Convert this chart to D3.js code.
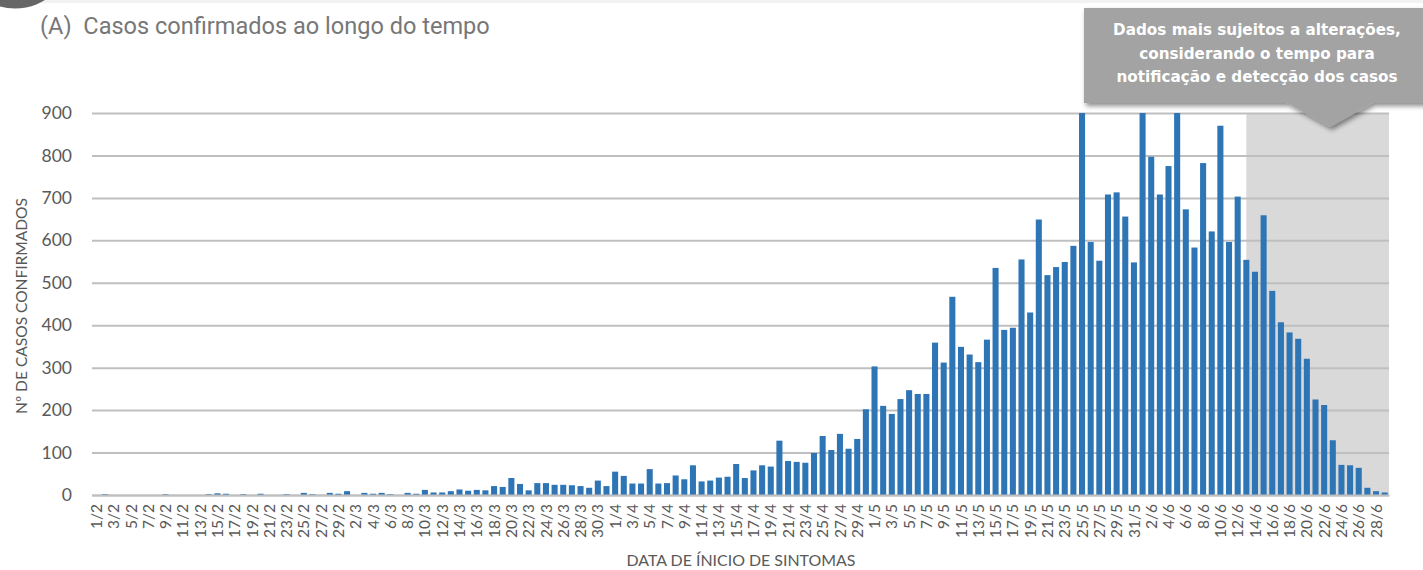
<!DOCTYPE html>
<html>
<head>
<meta charset="utf-8">
<script src="https://cdn.jsdelivr.net/npm/d3@7"></script>
<style>
  html, body { margin: 0; padding: 0; background: #fff; }
  svg { display: block; }
</style>
</head>
<body>
<svg id="chart" width="1423" height="570"></svg>
<script>
// daily confirmed cases by symptom onset date (values above 900 reach the axis top)
const feb = [0, 2, 0, 0, 0, 0, 0, 0, 2, 0, 0, 0, 0, 2, 4, 3, 0, 2, 0, 3, 0, 0, 2, 0, 5, 2, 0, 5, 3];
const mar = [9, 0, 5, 3, 5, 2, 0, 5, 3, 12, 6, 6, 9, 13, 10, 12, 11, 21, 19, 40,
  26, 11, 28, 28, 24, 24, 23, 21, 17, 34, 21];
const apr = [55, 45, 27, 27, 61, 27, 28, 46, 37, 70, 32, 34, 41, 43, 73, 40, 58, 70, 67, 128,
  80, 78, 76, 99, 139, 106, 144, 109, 132, 202];
const may = [303, 210, 191, 226, 247, 238, 238, 359, 312, 467, 349, 331, 313, 366, 535, 389, 394, 555, 430, 649,
  518, 537, 549, 587, 900, 596, 552, 708, 713, 656, 548];
const jun = [900, 797, 708, 775, 900, 673, 583, 782, 621, 870, 596, 703, 554, 526, 659, 481, 407, 383, 368, 321,
  225, 212, 129, 71, 70, 64, 17, 9, 6];

const months = [[2, feb], [3, mar], [4, apr], [5, may], [6, jun]];
const yTicks = [0, 100, 200, 300, 400, 500, 600, 700, 800, 900];
const shadeFrom = '13/6';
const title = '(A)  Casos confirmados ao longo do tempo';
const yTitle = 'Nº DE CASOS CONFIRMADOS';
const xTitle = 'DATA DE ÍNICIO DE SINTOMAS';
const note = ['Dados mais sujeitos a alterações,', 'considerando o tempo para', 'notificação e detecção dos casos'];

let data = [];
months.forEach(([m, vals]) => {
  vals.forEach((v, i) => data.push({ day: `${i + 1}/${m}`, value: v }));
});

const svg = d3.select('#chart');
const pLeft = 92, pRight = 1389, pTop = 113, pBottom = 495;

// scale a text's font size so it spans the wanted width
function fitWidth(sel, width) {
  let size = parseFloat(sel.attr('font-size'));
  let w = sel.node().getComputedTextLength();
  if (w > 0) sel.attr('font-size', (size * width / w).toFixed(2));
}

const x = d3.scaleBand()
  .domain(data.map(d => d.day))
  .range([pLeft, pRight])
  .paddingInner(0.3)
  .paddingOuter(0.15);
const y = d3.scaleLinear().domain([0, 900]).range([pBottom, pTop]).clamp(true);

// decoration at the top
svg.append('rect').attr('x', 0).attr('y', 0).attr('width', 1423).attr('height', 3).attr('fill', '#f2f2f2');
svg.append('circle').attr('cx', 15).attr('cy', -48.5).attr('r', 57).attr('fill', '#666');

const titleText = svg.append('text')
  .attr('x', 40).attr('y', 34)
  .attr('font-family', 'Roboto, sans-serif')
  .attr('font-size', 22)
  .attr('fill', '#777')
  .attr('xml:space', 'preserve')
  .text(title);
fitWidth(titleText, 450);

// shaded zone (recent days)
const shadeX = x(shadeFrom) + x.bandwidth() / 2;
svg.append('rect')
  .attr('x', shadeX).attr('y', y(900))
  .attr('width', pRight - shadeX).attr('height', y(0) - y(900))
  .attr('fill', '#d9d9d9');

// gridlines + y labels
const yAxis = svg.append('g')
  .attr('transform', `translate(${pLeft},0)`)
  .call(d3.axisLeft(y).tickValues(yTicks).tickSize(-(pRight - pLeft)).tickPadding(20));
yAxis.select('.domain').remove();
yAxis.selectAll('line').attr('stroke', '#bfbfbf').attr('stroke-width', 2);
yAxis.selectAll('text')
  .attr('font-family', 'Lato, sans-serif')
  .attr('font-size', 17.5)
  .attr('fill', '#595959');

// bars
svg.append('g')
  .selectAll('rect')
  .data(data)
  .join('rect')
  .attr('x', d => x(d.day))
  .attr('y', d => y(d.value))
  .attr('width', x.bandwidth())
  .attr('height', d => y(0) - y(d.value))
  .attr('fill', '#2e75b6');

// x axis
const xAxis = svg.append('g')
  .attr('transform', `translate(0,${pBottom})`)
  .call(d3.axisBottom(x).tickValues(data.filter((d, i) => i % 2 == 0).map(d => d.day)).tickSize(0));
xAxis.select('.domain').attr('stroke', '#bfbfbf').attr('stroke-width', 2);
xAxis.selectAll('text')
  .attr('font-family', 'Lato, sans-serif')
  .attr('font-size', 15.5)
  .attr('fill', '#595959')
  .attr('text-anchor', 'end')
  .attr('transform', 'rotate(-90)')
  .attr('x', -9)
  .attr('y', 0)
  .attr('dy', '0.36em');

const yTitleText = svg.append('text')
  .attr('transform', 'translate(27,306) rotate(-90)')
  .attr('text-anchor', 'middle')
  .attr('font-family', 'Lato, sans-serif')
  .attr('font-size', 14)
  .attr('fill', '#595959')
  .text(yTitle);
fitWidth(yTitleText, 216);

const xTitleText = svg.append('text')
  .attr('x', 741).attr('y', 566)
  .attr('text-anchor', 'middle')
  .attr('font-family', 'Lato, sans-serif')
  .attr('font-size', 14)
  .attr('fill', '#595959')
  .text(xTitle);
fitWidth(xTitleText, 229);

// callout
const defs = svg.append('defs');
defs.append('filter').attr('id', 'shadow')
  .attr('x', '-10%').attr('y', '-10%').attr('width', '130%').attr('height', '140%')
  .append('feDropShadow')
  .attr('dx', 2).attr('dy', 3).attr('stdDeviation', 2.5)
  .attr('flood-color', '#000').attr('flood-opacity', 0.45);

const bx0 = 1084, bx1 = 1440, by0 = 8, by1 = 103;
const tipX = 1330;
const path = d3.path();
path.moveTo(bx0, by0);
path.lineTo(bx1, by0);
path.lineTo(bx1, by1);
path.lineTo(tipX + 43, by1);
path.lineTo(tipX, 127);
path.lineTo(tipX - 43, by1);
path.lineTo(bx0, by1);
path.closePath();
svg.append('path')
  .attr('d', path.toString())
  .attr('fill', '#a3a3a3')
  .attr('filter', 'url(#shadow)');

const noteText = svg.append('g')
  .selectAll('text')
  .data(note)
  .join('text')
  .attr('x', 1257)
  .attr('y', (d, i) => 35 + i * 23.5)
  .attr('text-anchor', 'middle')
  .attr('font-family', '"DejaVu Sans", sans-serif')
  .attr('font-weight', 'bold')
  .attr('font-size', 14)
  .attr('fill', '#fff')
  .text(d => d);
// same size for all three lines, set from the first one
const first = d3.select(noteText.nodes()[0]);
fitWidth(first, 288);
noteText.attr('font-size', first.attr('font-size'));
</script>
</body>
</html>
